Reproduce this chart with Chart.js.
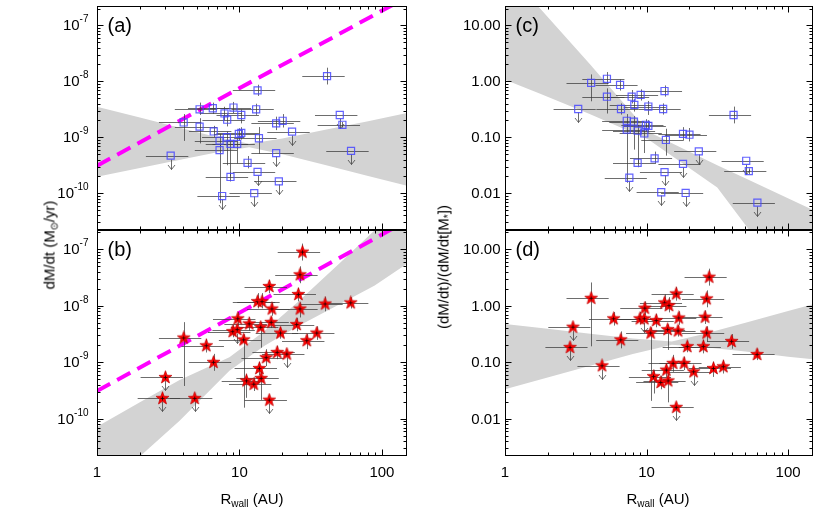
<!DOCTYPE html>
<html>
<head>
<meta charset="utf-8">
<script src="https://cdn.jsdelivr.net/npm/chart.js@4.4.1/dist/chart.umd.min.js"></script>
<style>
    body { margin: 0; background: #fff; }
    #wrap { position: relative; width: 830px; height: 514px; font-family: "Liberation Sans", Arial, sans-serif; color: #000; }
    #wrap canvas { position: absolute; left: 0; top: 0; }
    .ttl { position: absolute; font-size: 15px; font-weight: normal; line-height: 1; white-space: nowrap; transform: translate(-50%, -50%); }
    .rot { transform: translate(-50%, -50%) rotate(-90deg); }
    .ttl sub { font-size: 10px; vertical-align: -3px; line-height: 0; }
</style>
</head>
<body>
<div id="wrap">
    <canvas id="panelA" width="830" height="514"></canvas>
    <canvas id="panelB" width="830" height="514"></canvas>
    <canvas id="panelC" width="830" height="514"></canvas>
    <canvas id="panelD" width="830" height="514"></canvas>
    <div class="ttl rot" style="left:49px;top:245px;">dM/dt (M<sub>⊙</sub>/yr)</div>
    <div class="ttl rot" style="left:443px;top:267px;">(dM/dt)/(dM/dt[M<sub>*</sub>])</div>
    <div class="ttl" style="left:252px;top:498px;">R<sub>wall</sub> (AU)</div>
    <div class="ttl" style="left:658px;top:498px;">R<sub>wall</sub> (AU)</div>
</div>
<script>
// squares sample: panels (a) and (c)
const rSq = [3.29, 4.06, 5.25, 5.25, 6.5, 6.6, 7.85, 8.2, 9.08, 10.3, 13.1, 13.4, 41.2, 7.25, 7.25, 8.15, 8.65,
    9.64, 9.9, 10.3, 13.7, 18.1, 20.1, 23.4, 50.6, 52.8, 60.7, 18.1, 11.4, 13.4, 8.65, 18.9, 12.7, 7.56];
const mdotSq = [4.7e-10, 1.84e-9, 3.16e-9, 1.55e-9, 3.3e-9, 1.27e-9, 2.66e-9, 2.06e-9, 3.4e-9, 2.5e-9, 3.16e-9,
    6.9e-9, 1.24e-8, 8.7e-10, 5.9e-10, 1.0e-9, 7.6e-10, 7.6e-10, 1.15e-9, 1.2e-9, 9.6e-10, 1.77e-9, 1.97e-9,
    1.26e-9, 2.5e-9, 1.67e-9, 5.7e-10, 5.2e-10, 3.5e-10, 2.4e-10, 1.95e-10, 1.63e-10, 1.0e-10, 8.9e-11];
const ratioSq = [0.32, 0.94, 1.11, 0.53, 0.86, 0.32, 0.53, 0.38, 0.57, 0.354, 0.32, 0.67, 0.25, 0.197, 0.137,
    0.19, 0.131, 0.117, 0.167, 0.16, 0.0895, 0.115, 0.111, 0.056, 0.038, 0.0248, 0.0068, 0.0335, 0.042, 0.0238,
    0.035, 0.0101, 0.0104, 0.0189];
const limSq = [1, 0, 0, 0, 0, 0, 0, 0, 0, 0, 0, 0, 0, 0, 0, 0, 0, 0, 0, 0, 0, 0, 0, 1, 1, 0, 1, 1, 0, 1, 0, 1, 1, 1];
// vertical error bars in dex (down / up)
const dnSq = [0, 0.33, 0.1, 0.3, 0.1, 0.1, 0.12, 0.12, 0.1, 0.15, 0.1, 0.1, 0.15, 0.1, 0.95, 0.5, 0.58, 0.35,
    0.12, 0.12, 0.28, 0.12, 0.12, 0, 0, 0.05, 0, 0, 0.1, 0, 0.08, 0, 0, 0];
const upSq = [0, 0.15, 0.12, 0.15, 0.1, 0.1, 0.12, 0.1, 0.1, 0.1, 0.1, 0.1, 0.15, 0.12, 0.1, 0.1, 0.1, 0.1,
    0.1, 0.1, 0.2, 0.12, 0.12, 0, 0, 0.05, 0, 0, 0.12, 0, 0.08, 0, 0, 0];

// stars sample: panels (b) and (d)
const rSt = [27.7, 26.6, 16.2, 25.9, 13.4, 14.4, 16.9, 26.6, 39.9, 60.4, 9.73, 11.7, 16.7, 25.2, 14.1, 8.98, 9.64,
    19.4, 34.9, 10.7, 29.7, 4.06, 5.85, 6.58, 18.4, 21.5, 15.4, 13.8, 14.2, 11.2, 12.6, 3.02, 2.88, 4.85, 16.2];
const mdotSt = [8.95e-8, 3.55e-8, 2.2e-8, 1.59e-8, 1.19e-8, 1.19e-8, 8.8e-9, 8.8e-9, 1.08e-8, 1.13e-8, 5.9e-9,
    4.8e-9, 5.1e-9, 4.67e-9, 4.17e-9, 3.5e-9, 3.8e-9, 3.3e-9, 3.3e-9, 2.5e-9, 2.42e-9, 2.7e-9, 1.97e-9, 1.0e-9,
    1.5e-9, 1.4e-9, 1.21e-9, 7.8e-10, 5.2e-10, 4.7e-10, 4.1e-10, 5.4e-10, 2.3e-10, 2.3e-10, 2.14e-10];
const ratioSt = [3.22, 1.33, 1.63, 0.63, 1.13, 1.01, 0.61, 0.33, 0.235, 0.138, 0.91, 0.55, 0.36, 0.19, 0.38, 0.59,
    0.59, 0.19, 0.0836, 0.33, 0.078, 1.36, 0.59, 0.25, 0.096, 0.068, 0.096, 0.073, 0.047, 0.056, 0.044, 0.42,
    0.184, 0.087, 0.016];
const limSt = [0, 0, 0, 0, 0, 0, 0, 0, 0, 0, 0, 0, 0, 0, 0, 0, 1, 0, 0, 0, 0, 0, 0, 0, 0, 1, 0, 0, 0, 0, 0, 1, 1, 1, 1];
const dnSt = [0.15, 0.15, 0.12, 0.12, 0.12, 0.12, 0.12, 0.15, 0.13, 0.1, 0.12, 0.12, 0.1, 0.12, 0.36, 0.1, 0, 0.1,
    0.12, 1.2, 0.15, 0.85, 0.12, 0.15, 0.12, 0, 0.15, 0.12, 0.38, 0.3, 0.12, 0, 0, 0, 0];
const upSt = [0.15, 0.15, 0.12, 0.12, 0.15, 0.15, 0.12, 0.12, 0.13, 0.1, 0.12, 0.12, 0.1, 0.12, 0.09, 0.12, 0, 0.1,
    0.12, 0.1, 0.12, 0.28, 0.12, 0.15, 0.12, 0, 0.15, 0.12, 0.12, 0.12, 0.12, 0, 0, 0, 0];

// horizontal error on R_wall (fraction)
const R_ERR = 0.33;

// fit bands (edges)
const bandXA = [1, 2, 4, 7, 11.7, 20, 40, 80, 150];
const bandHiA = [3.52e-9, 2.25e-9, 1.44e-9, 1.0e-9, 7.69e-10, 9.5e-10, 1.36e-9, 1.94e-9, 2.7e-9];
const bandLoA = [1.97e-10, 2.83e-10, 4.06e-10, 5.41e-10, 6.61e-10, 4.99e-10, 3.2e-10, 2.04e-10, 1.36e-10];
const bandXB = [1, 2, 3.8, 8.5, 15, 25, 50, 89, 150];
const bandHiB = [7.24e-11, 1.97e-10, 4.86e-10, 1.23e-9, 3.58e-9, 1.1e-8, 5.57e-8, 2.18e-7, 6.08e-7];
const bandLoB = [4.57e-12, 2.16e-11, 9.27e-11, 7.1e-10, 1.97e-9, 4.19e-9, 1.06e-8, 2.28e-8, 5.55e-8];
const bandXC = [1, 1.72, 4, 10.3, 31.6, 52.5, 150];
const bandHiC = [56.2, 21.7, 2.0, 0.126, 0.0316, 0.0174, 0.005];
const bandLoC = [1.07, 0.617, 0.257, 0.0912, 0.0126, 0.00229, 0.0002];
const bandXD = [1, 2, 4, 8, 15.1, 25, 50, 100, 150];
const bandHiD = [0.479, 0.393, 0.321, 0.265, 0.234, 0.313, 0.502, 0.809, 1.07];
const bandLoD = [0.0334, 0.054, 0.0871, 0.14, 0.204, 0.187, 0.155, 0.126, 0.113];

// magenta dashed relation (panels a, b)
const dashX = [1, 150];
const dashY = [3.1e-10, 3.2e-7];

// ticks
const rTickVals = [1, 10, 100];
const rTickText = ['1', '10', '100'];
const mdotTickVals = [1e-10, 1e-9, 1e-8, 1e-7];
const mdotTickExp = ['-10', '-9', '-8', '-7'];
const ratioTickVals = [0.01, 0.1, 1, 10];
const ratioTickText = ['0.01', '0.10', '1.00', '10.00'];

const W = 830, H = 514;
const FONT = '"Liberation Sans", Arial, sans-serif';
const ERR_COLOR = 'rgba(60,60,60,0.75)';

const starImg = (() => {
    const c = document.createElement('canvas');
    c.width = 15; c.height = 15;
    const g = c.getContext('2d');
    g.beginPath();
    for (let i = 0; i < 10; i++) {
        const r = i % 2 ? 2.8 : 6.8;
        const a = -Math.PI / 2 + i * Math.PI / 5;
        g.lineTo(7.5 + r * Math.cos(a), 7.5 + r * Math.sin(a));
    }
    g.closePath();
    g.fillStyle = '#ff0000';
    g.fill();
    g.strokeStyle = 'rgba(190,0,0,0.9)';
    g.lineWidth = 0.8;
    g.stroke();
    g.fillStyle = 'rgba(30,0,0,0.85)';
    g.fillRect(7, 5.5, 1, 4);
    g.fillRect(5.5, 7, 4, 1);
    return c;
})();

function pts(xs, ys) {
    return xs.map((v, i) => ({x: v, y: ys[i]}));
}

function logTicks(min, max) {
    const out = [];
    for (let e = Math.floor(Math.log10(min)); e <= Math.ceil(Math.log10(max)); e++) {
        for (let m = 1; m < 10; m++) {
            const v = m * Math.pow(10, e);
            if (v >= min * 0.999 && v <= max * 1.001) out.push([v, m === 1]);
        }
    }
    return out;
}

const errorBars = {
    id: 'errorBars',
    beforeDatasetDraw(chart, args) {
        const ds = chart.data.datasets[args.index];
        if (!ds.yDn) return;
        const {ctx, chartArea: a, scales: {x, y}} = chart;
        ctx.save();
        ctx.beginPath();
        ctx.rect(a.left, a.top, a.right - a.left, a.bottom - a.top);
        ctx.clip();
        ctx.strokeStyle = ERR_COLOR;
        ctx.lineWidth = 1;
        ds.data.forEach((p, i) => {
            const px = Math.round(x.getPixelForValue(p.x)) + 0.5;
            const py = Math.round(y.getPixelForValue(p.y)) + 0.5;
            ctx.beginPath();
            ctx.moveTo(x.getPixelForValue(p.x * (1 - R_ERR)), py);
            ctx.lineTo(x.getPixelForValue(p.x * (1 + R_ERR)), py);
            if (ds.lim[i]) {
                ctx.moveTo(px, py + 3);
                ctx.lineTo(px, py + 13);
                ctx.moveTo(px - 3.5, py + 8.5);
                ctx.lineTo(px, py + 13);
                ctx.lineTo(px + 3.5, py + 8.5);
            } else {
                ctx.moveTo(px, y.getPixelForValue(p.y * Math.pow(10, ds.yUp[i])));
                ctx.lineTo(px, y.getPixelForValue(p.y / Math.pow(10, ds.yDn[i])));
            }
            ctx.stroke();
        });
        ctx.restore();
    }
};

const boxAxes = {
    id: 'boxAxes',
    afterDraw(chart, args, opts) {
        const {ctx, chartArea: a, scales: {x, y}} = chart;
        const L = Math.round(a.left) + 0.5, R = Math.round(a.right) - 0.5;
        const T = Math.round(a.top) + 0.5, B = Math.round(a.bottom) - 0.5;
        ctx.save();
        ctx.strokeStyle = '#000';
        ctx.lineWidth = 1;
        ctx.strokeRect(L, T, R - L, B - T);
        ctx.beginPath();
        logTicks(x.min, x.max).forEach(([v, major]) => {
            const px = Math.round(x.getPixelForValue(v)) + 0.5;
            const len = major ? 6 : 3;
            ctx.moveTo(px, B); ctx.lineTo(px, B - len);
            ctx.moveTo(px, T); ctx.lineTo(px, T + len);
        });
        logTicks(y.min, y.max).forEach(([v, major]) => {
            const py = Math.round(y.getPixelForValue(v)) + 0.5;
            const len = major ? 6 : 3;
            ctx.moveTo(L, py); ctx.lineTo(L + len, py);
            ctx.moveTo(R, py); ctx.lineTo(R - len, py);
        });
        ctx.stroke();

        ctx.fillStyle = '#000';
        ctx.textBaseline = 'middle';
        // y tick labels
        opts.yVals.forEach((v, i) => {
            const py = y.getPixelForValue(v);
            if (opts.yExp) {
                ctx.font = '10px ' + FONT;
                const we = ctx.measureText(opts.yExp[i]).width;
                ctx.textAlign = 'left';
                ctx.fillText(opts.yExp[i], L - 9 - we, py - 6);
                ctx.font = '15px ' + FONT;
                ctx.textAlign = 'right';
                ctx.fillText('10', L - 9 - we, py + 1);
            } else {
                ctx.font = '15px ' + FONT;
                ctx.textAlign = 'right';
                ctx.fillText(opts.yText[i], L - 5, py + 1);
            }
        });
        // x tick labels on the lower panels only
        if (opts.xLabels) {
            ctx.font = '15px ' + FONT;
            ctx.textAlign = 'center';
            rTickVals.forEach((v, i) => {
                ctx.fillText(rTickText[i], x.getPixelForValue(v), B + 17);
            });
        }
        // panel tag
        ctx.font = '20px ' + FONT;
        ctx.textAlign = 'left';
        ctx.textBaseline = 'alphabetic';
        ctx.fillText(opts.tag, L + 10, T + 25);
        ctx.restore();
    }
};

function makePanel(id, spec) {
    const [left, top, right, bottom] = spec.area;
    const datasets = [
        {data: pts(spec.bandX, spec.bandLo), borderColor: 'transparent', borderWidth: 0, pointRadius: 0, fill: false, order: 3},
        {data: pts(spec.bandX, spec.bandHi), borderColor: 'transparent', borderWidth: 0, pointRadius: 0,
            fill: '-1', backgroundColor: '#d3d3d3', order: 3},
    ];
    if (spec.dash) {
        datasets.push({data: pts(dashX, dashY), borderColor: '#ff00ff', borderWidth: 4, borderDash: [15, 8],
            borderCapStyle: 'butt', pointRadius: 0, fill: false, order: 2});
    }
    const marker = spec.stars
        ? {pointStyle: starImg, pointRadius: 6}
        : {pointStyle: 'rect', pointRadius: 5, pointBorderColor: 'rgba(70,70,255,0.85)',
            pointBackgroundColor: 'rgba(0,0,0,0)', pointBorderWidth: 1.2};
    datasets.push(Object.assign({
        data: pts(spec.x, spec.y), showLine: false, fill: false, order: 1,
        yDn: spec.dn, yUp: spec.up, lim: spec.lim
    }, marker));

    new Chart(document.getElementById(id), {
        type: 'line',
        data: {datasets},
        options: {
            responsive: false,
            animation: false,
            events: [],
            layout: {padding: {left: left, top: top, right: W - right, bottom: H - bottom}},
            scales: {
                x: {type: 'logarithmic', min: 1, max: 150, display: false},
                y: {type: 'logarithmic', min: spec.ymin, max: spec.ymax, display: false}
            },
            plugins: {
                legend: {display: false},
                tooltip: {enabled: false},
                boxAxes: {tag: spec.tag, yVals: spec.yVals, yExp: spec.yExp, yText: spec.yText, xLabels: spec.xLabels}
            }
        },
        plugins: [errorBars, boxAxes]
    });
}

makePanel('panelA', {
    area: [97, 5, 407, 230], ymin: 2.2e-11, ymax: 2.2e-7, tag: '(a)',
    x: rSq, y: mdotSq, dn: dnSq, up: upSq, lim: limSq,
    bandX: bandXA, bandHi: bandHiA, bandLo: bandLoA, dash: true,
    yVals: mdotTickVals, yExp: mdotTickExp, xLabels: false
});
makePanel('panelB', {
    area: [97, 230, 407, 456], ymin: 2.2e-11, ymax: 2.2e-7, tag: '(b)', stars: true,
    x: rSt, y: mdotSt, dn: dnSt, up: upSt, lim: limSt,
    bandX: bandXB, bandHi: bandHiB, bandLo: bandLoB, dash: true,
    yVals: mdotTickVals, yExp: mdotTickExp, xLabels: true
});
makePanel('panelC', {
    area: [505, 5, 813, 230], ymin: 2.2e-3, ymax: 22, tag: '(c)',
    x: rSq, y: ratioSq, dn: dnSq, up: upSq, lim: limSq,
    bandX: bandXC, bandHi: bandHiC, bandLo: bandLoC, dash: false,
    yVals: ratioTickVals, yText: ratioTickText, xLabels: false
});
makePanel('panelD', {
    area: [505, 230, 813, 456], ymin: 2.2e-3, ymax: 22, tag: '(d)', stars: true,
    x: rSt, y: ratioSt, dn: dnSt, up: upSt, lim: limSt,
    bandX: bandXD, bandHi: bandHiD, bandLo: bandLoD, dash: false,
    yVals: ratioTickVals, yText: ratioTickText, xLabels: true
});
</script>
</body>
</html>
